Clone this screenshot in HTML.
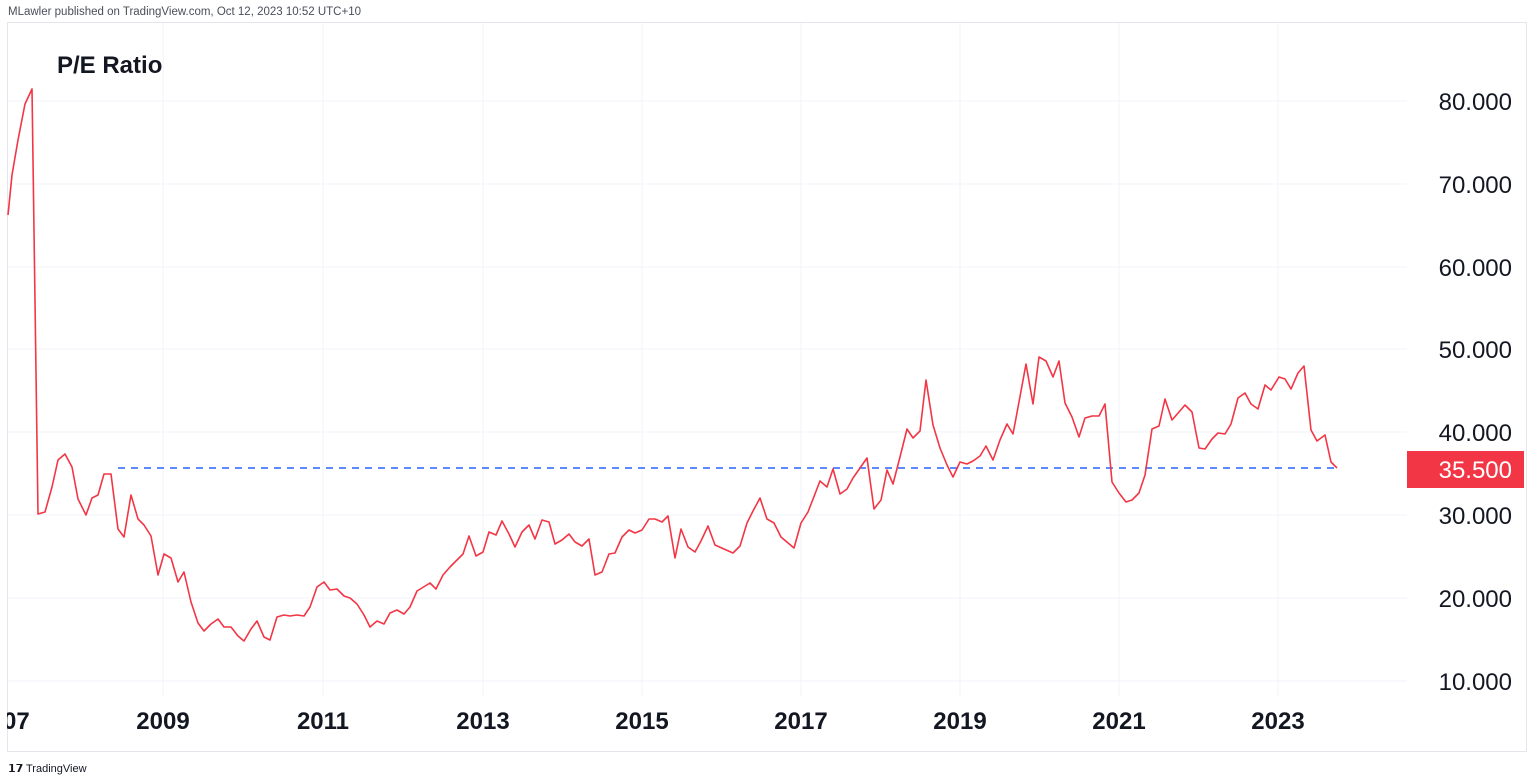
<!DOCTYPE html>
<html><head><meta charset="utf-8"><style>
html,body{margin:0;padding:0;background:#fff;width:1536px;height:781px;overflow:hidden;font-family:"Liberation Sans",sans-serif}
</style></head><body>
<svg width="1536" height="781" viewBox="0 0 1536 781" xmlns="http://www.w3.org/2000/svg" style="position:absolute;left:0;top:0">
<text x="8" y="15" font-size="11.5" fill="#4a4e59" font-family="Liberation Sans,sans-serif">MLawler published on TradingView.com, Oct 12, 2023 10:52 UTC+10</text>
<rect x="7.5" y="22.5" width="1519" height="729" fill="#fff" stroke="#e4e6eb" stroke-width="1"/>
<g stroke="#f0f3fa" stroke-width="1">
<line x1="163" y1="23" x2="163" y2="696"/><line x1="323" y1="23" x2="323" y2="696"/>
<line x1="483" y1="23" x2="483" y2="696"/><line x1="642" y1="23" x2="642" y2="696"/>
<line x1="801" y1="23" x2="801" y2="696"/><line x1="960" y1="23" x2="960" y2="696"/>
<line x1="1119" y1="23" x2="1119" y2="696"/><line x1="1278" y1="23" x2="1278" y2="696"/>
<line x1="8" y1="101" x2="1407" y2="101"/><line x1="8" y1="184" x2="1407" y2="184"/>
<line x1="8" y1="267" x2="1407" y2="267"/><line x1="8" y1="349" x2="1407" y2="349"/>
<line x1="8" y1="432" x2="1407" y2="432"/><line x1="8" y1="515" x2="1407" y2="515"/>
<line x1="8" y1="598" x2="1407" y2="598"/><line x1="8" y1="681" x2="1407" y2="681"/>
</g>
<text x="57" y="73" font-size="24" font-weight="bold" fill="#131722">P/E Ratio</text>
<line x1="118" y1="468" x2="1337" y2="468" stroke="#2962ff" stroke-width="1.5" stroke-dasharray="7,6"/>
<polyline fill="none" stroke="#f23645" stroke-width="1.6" stroke-linejoin="round" points="8,215 12,175 18,140 25,104 32,89 38,514 45,512 52,487 58,460 65,454 72,467 78,499 86,515 92,498 98,495 104,474 111,474 118,529 124,537 131,495 138,519 144,525 151,536 158,575 164,554 171,558 178,582 184,572 191,602 198,623 204,631 211,624 218,619 224,627 231,627 238,636 244,641 251,629 257,621 264,637 270,640 277,617 284,615 290,616 297,615 304,616 310,607 317,587 324,582 330,590 337,589 344,596 350,598 357,604 364,615 370,627 377,621 384,624 390,613 397,610 404,614 410,607 417,591 430,583 436,589 443,575 450,567 457,560 463,554 469,536 476,556 483,552 489,532 496,535 502,521 509,534 515,547 522,532 529,525 535,539 542,520 549,522 555,544 562,540 569,534 575,542 582,546 589,539 595,575 602,572 609,554 615,553 622,537 629,530 635,533 642,530 649,519 655,519 662,522 668,516 675,558 681,529 688,547 695,552 701,541 708,526 715,545 733,553 740,546 747,523 753,511 760,498 767,519 774,523 781,537 794,548 801,523 808,512 820,481 827,487 833,469 840,494 847,489 853,478 860,468 867,458 874,509 881,500 887,470 893,484 900,457 907,429 913,438 920,431 926,380 933,425 940,448 947,465 953,477 960,462 967,464 973,461 980,456 986,446 993,460 1000,440 1007,424 1013,434 1019,402 1026,364 1033,404 1039,357 1046,361 1053,377 1059,361 1065,403 1072,417 1079,437 1085,418 1092,416 1099,416 1105,404 1112,482 1119,493 1126,502 1132,500 1139,493 1145,475 1152,429 1159,426 1165,399 1172,420 1179,412 1185,405 1192,412 1199,448 1205,449 1212,439 1218,433 1225,434 1231,424 1238,398 1245,393 1251,404 1258,409 1265,385 1271,390 1279,377 1285,379 1291,389 1298,373 1304,366 1311,430 1317,441 1325,435 1331,462 1337,468"/>
<g font-size="24" fill="#131722" text-anchor="end">
<text x="1512" y="110">80.000</text><text x="1512" y="193">70.000</text>
<text x="1512" y="276">60.000</text><text x="1512" y="358">50.000</text>
<text x="1512" y="441">40.000</text><text x="1512" y="524">30.000</text>
<text x="1512" y="607">20.000</text><text x="1512" y="690">10.000</text>
</g>
<rect x="1407" y="451" width="117" height="37" fill="#f23645"/>
<text x="1512" y="478" font-size="24" fill="#fff" text-anchor="end">35.500</text>
<g font-size="24" font-weight="bold" fill="#131722" text-anchor="middle">
<text x="3" y="729">2007</text><text x="163" y="729">2009</text><text x="323" y="729">2011</text>
<text x="483" y="729">2013</text><text x="642" y="729">2015</text><text x="801" y="729">2017</text>
<text x="960" y="729">2019</text><text x="1119" y="729">2021</text><text x="1278" y="729">2023</text>
</g>
<rect x="0" y="700" width="7" height="40" fill="#fff"/>
<text x="8" y="772" font-size="11" font-weight="bold" fill="#131722">𝟭𝟳</text>
<text x="26" y="772" font-size="11" fill="#131722">TradingView</text>
</svg>
</body></html>
